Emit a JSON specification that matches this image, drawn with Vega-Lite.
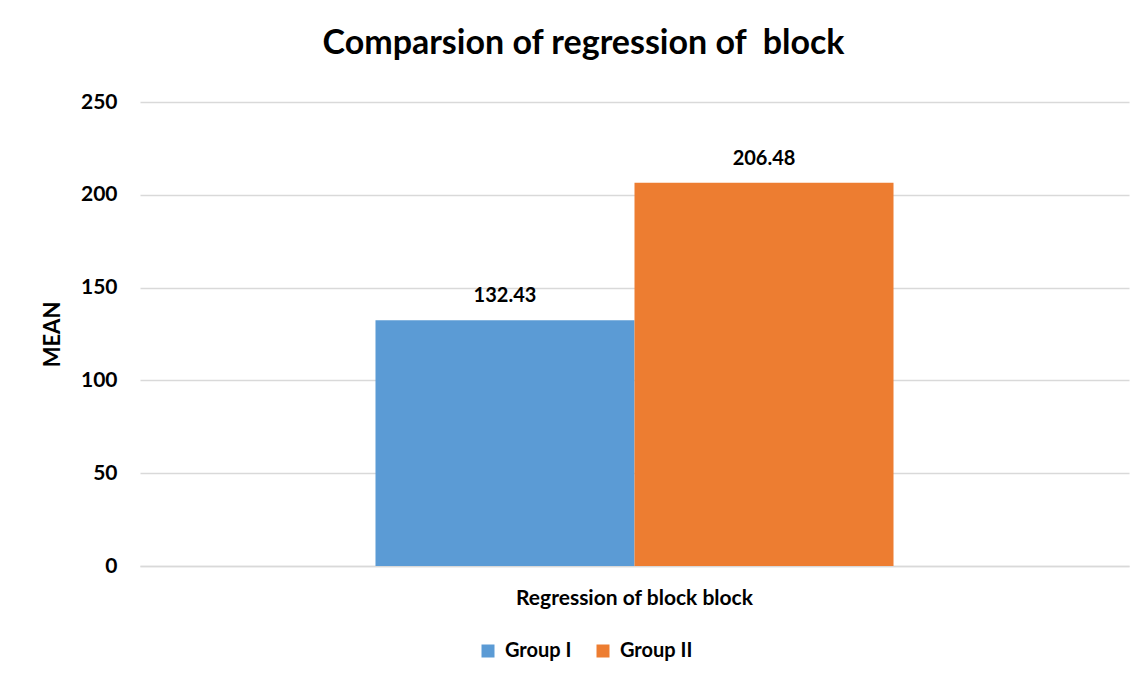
{
  "$schema": "https://vega.github.io/schema/vega-lite/v6.json",
  "width": 989,
  "height": 464,
  "autosize": {"type": "none"},
  "padding": {"left": 140, "top": 102, "right": 18, "bottom": 119},
  "background": "white",
  "config": {"view": {"stroke": null}},
  "title": {
    "text": "Comparsion of regression of\u00a0 block",
    "font": "Lato",
    "fontSize": 34,
    "fontWeight": "bold",
    "color": "#000000",
    "anchor": "middle",
    "baseline": "alphabetic",
    "offset": 3,
    "dx": -51
  },
  "data": {
    "values": [
      {"category": "Regression of block block", "group": "Group I", "mean": 132.43},
      {"category": "Regression of block block", "group": "Group II", "mean": 206.48}
    ]
  },
  "encoding": {
    "x": {
      "field": "category",
      "type": "nominal",
      "scale": {"paddingInner": 0, "paddingOuter": 0.4546},
      "axis": {
        "title": null,
        "labelAngle": 0,
        "labelFont": "Lato",
        "labelFontSize": 21,
        "labelFontWeight": "bold",
        "labelColor": "#000000",
        "labelPadding": 21,
        "labelLimit": 0,
        "ticks": false,
        "domain": true,
        "domainColor": "#D9D9D9",
        "domainWidth": 1.5
      }
    },
    "xOffset": {"field": "group", "type": "nominal", "scale": {"paddingInner": 0, "paddingOuter": 0}},
    "y": {
      "field": "mean",
      "type": "quantitative",
      "scale": {"domain": [0, 250]},
      "axis": {
        "title": "MEAN",
        "titleFont": "Lato",
        "titleFontSize": 22,
        "titleFontWeight": "bold",
        "titleColor": "#000000",
        "titlePadding": 16,
        "values": [0, 50, 100, 150, 200, 250],
        "labelFont": "Lato",
        "labelFontSize": 21,
        "labelFontWeight": "bold",
        "labelColor": "#000000",
        "labelPadding": 23,
        "ticks": false,
        "domain": false,
        "grid": true,
        "gridColor": "#D9D9D9",
        "gridWidth": 1.5
      }
    }
  },
  "layer": [
    {
      "mark": {"type": "bar"},
      "encoding": {
        "color": {
          "field": "group",
          "type": "nominal",
          "scale": {"domain": ["Group I", "Group II"], "range": ["#5B9BD5", "#ED7D31"]},
          "legend": {
            "title": null,
            "orient": "none",
            "legendX": 338,
            "legendY": 539,
            "direction": "horizontal",
            "symbolType": "square",
            "symbolSize": 169,
            "symbolStrokeWidth": 0,
            "labelFont": "Lato",
            "labelFontSize": 20,
            "labelFontWeight": "bold",
            "labelColor": "#000000",
            "columnPadding": 21,
            "labelOffset": 7
          }
        }
      }
    },
    {
      "mark": {
        "type": "text",
        "baseline": "alphabetic",
        "dy": -18,
        "font": "Lato",
        "fontSize": 20,
        "fontWeight": "bold",
        "color": "#000000"
      },
      "encoding": {
        "text": {"field": "mean", "type": "quantitative", "format": ".2f"}
      }
    }
  ]
}
